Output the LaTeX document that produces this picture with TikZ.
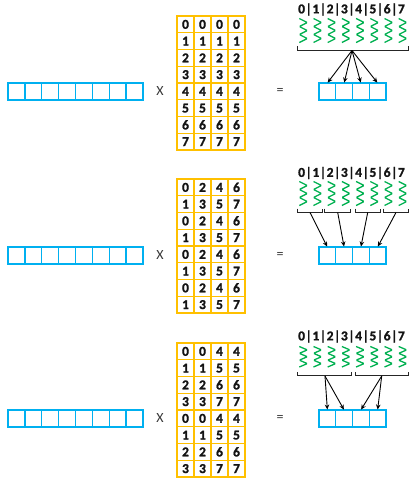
\documentclass[tikz,border=0pt]{standalone}
\usepackage{fontspec}
\setmainfont{Carlito}[BoldFeatures={FakeBold=1.3}]
\usetikzlibrary{arrows.meta}
\definecolor{cyanb}{HTML}{00B0F0}
\definecolor{orng}{HTML}{FFC000}
\definecolor{grn}{HTML}{00B050}
\definecolor{txt}{HTML}{141414}
\tikzset{
  bcell/.style={draw=cyanb, line width=1.2pt, minimum width=16.8pt, minimum height=17pt, inner sep=0pt, outer sep=0pt},
  mcell/.style={draw=orng, line width=1.3pt, minimum width=17pt, minimum height=16.75pt, inner sep=0pt, outer sep=0pt, font=\fontsize{13.5}{14}\selectfont\bfseries, text=txt},
  lab/.style={inner sep=0pt, font=\fontsize{13.5}{14}\selectfont\bfseries, text=txt},
  op/.style={inner sep=0pt, font=\fontsize{14}{15}\selectfont, text=txt!85},
  zig/.style={draw=grn, line width=1.3pt, rounded corners=1pt},
  brk/.style={draw=black!85, line width=1pt},
  arr/.style={draw=black, line width=0.9pt, -{Stealth[length=5pt,width=4.5pt]}, shorten >=0.5pt}
}
\newcommand\drawpanel[7]{%
  % left strip
  \foreach \i in {0,...,7}{
    \node[bcell] (a#1-\i) at ({8+16.875*(\i+0.5)},#2) {};
  }
  \node[op] (x#1) at (160,#2) {X};
  \node[op] (eq#1) at (280,#2) {=};
  % result strip
  \foreach \i in {0,...,3}{
    \node[bcell] (res#1-\i) at ({319+16.75*(\i+0.5)},#2) {};
  }
  % matrix
  \foreach \row [count=\r from 0] in {#7}{
    \foreach \v [count=\c from 0] in \row {
      \node[mcell] (m#1-\r-\c) at ({177+17*(\c+0.5)},{#3+16.75*(\r+0.5)}) {\v};
    }
  }
  % labels
  \node[lab] (lab#1) at (351.5,#4) {0\kern0.5pt|\kern0.5pt1\kern0.5pt|\kern0.5pt2\kern0.5pt|\kern0.5pt3\kern0.5pt|\kern0.5pt4\kern0.5pt|\kern0.5pt5\kern0.5pt|\kern0.5pt6\kern0.5pt|\kern0.5pt7};
  % zigzags
  \foreach \i in {0,...,7}{
    \pgfmathsetmacro{\zx}{303.3+14.2*\i}
    \pgfmathsetmacro{\zs}{(#6-#5)/6}
    \draw[zig] (\zx-4,#5) -- (\zx+4,#5+\zs) -- (\zx-4,#5+2*\zs) -- (\zx+4,#5+3*\zs)
      -- (\zx-4,#5+4*\zs) -- (\zx+4,#5+5*\zs) -- (\zx-4,#6);
  }
}
\begin{document}
\begin{tikzpicture}[x=1pt,y=-1pt]
\useasboundingbox (0,0) rectangle (409,480);

% ---------- panel 1 ----------
\drawpanel{1}{91.5}{16}{9.5}{18.5}{42.5}{{0,0,0,0},{1,1,1,1},{2,2,2,2},{3,3,3,3},{4,4,4,4},{5,5,5,5},{6,6,6,6},{7,7,7,7}}
\draw[brk] (297.5,46) -- (297.5,50) -- (408,50) -- (408,46);
\coordinate (bk1) at (352,50.5);
\foreach \i in {0,...,3}{ \draw[arr] (bk1) -- (res1-\i.north); }

% ---------- panel 2 ----------
\drawpanel{2}{255.5}{179}{173}{181.5}{205.5}{{0,2,4,6},{1,3,5,7},{0,2,4,6},{1,3,5,7},{0,2,4,6},{1,3,5,7},{0,2,4,6},{1,3,5,7}}
\draw[brk] (297.5,208.5) -- (297.5,212) -- (322.7,212) -- (322.7,208.5);
\draw[brk] (324.5,208.5) -- (324.5,212) -- (350.5,212) -- (350.5,208.5);
\draw[brk] (355,208.5) -- (355,212) -- (380.7,212) -- (380.7,208.5);
\draw[brk] (383,208.5) -- (383,212) -- (408.5,212) -- (408.5,208.5);
\coordinate (bk2a) at (310,212.5);
\coordinate (bk2b) at (337.7,212.5);
\coordinate (bk2c) at (367.7,212.5);
\coordinate (bk2d) at (396,212.5);
\draw[arr] (bk2a) -- (res2-0.north);
\draw[arr] (bk2b) -- (res2-1.north);
\draw[arr] (bk2c) -- (res2-2.north);
\draw[arr] (bk2d) -- (res2-3.north);

% ---------- panel 3 ----------
\drawpanel{3}{418.5}{343}{336.5}{346.5}{367}{{0,0,4,4},{1,1,5,5},{2,2,6,6},{3,3,7,7},{0,0,4,4},{1,1,5,5},{2,2,6,6},{3,3,7,7}}
\draw[brk] (297.5,372) -- (297.5,375.5) -- (351,375.5) -- (351,372);
\draw[brk] (355.7,372) -- (355.7,375.5) -- (408.5,375.5) -- (408.5,372);
\coordinate (bk3a) at (325,376);
\coordinate (bk3b) at (381.7,376);
\draw[arr] (bk3a) -- (res3-0.north);
\draw[arr] (bk3a) -- (res3-1.north);
\draw[arr] (bk3b) -- (res3-2.north);
\draw[arr] (bk3b) -- (res3-3.north);
\end{tikzpicture}
\end{document}
